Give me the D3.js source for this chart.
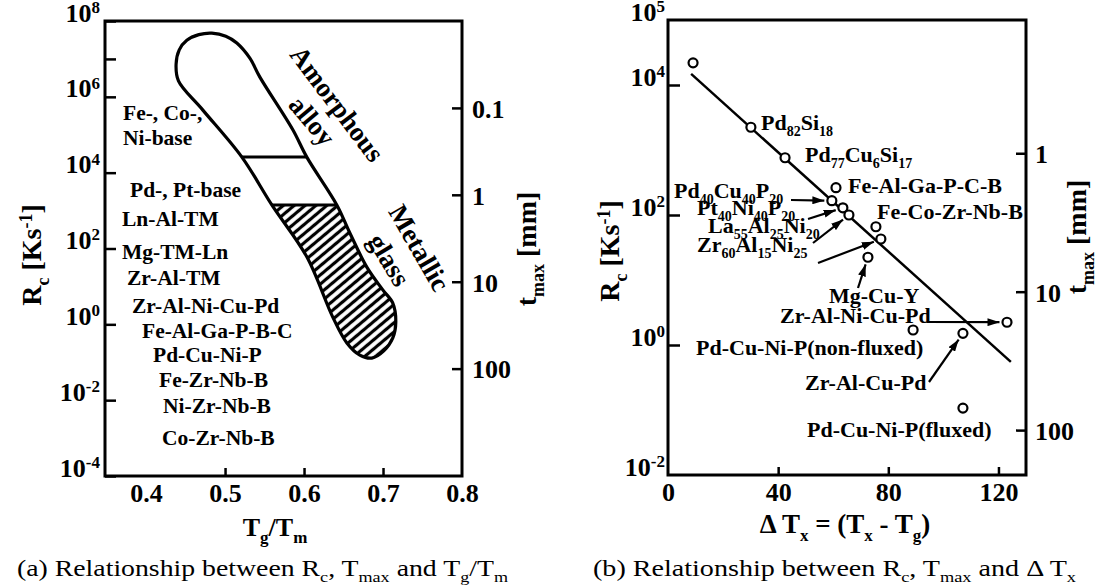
<!DOCTYPE html>
<html>
<head>
<meta charset="utf-8">
<title>Rc, tmax vs Tg/Tm and dTx</title>
<script src="https://cdn.jsdelivr.net/npm/d3@7"></script>
<style>
	body { margin: 0; background: #fff; }
</style>
</head>
<body>
<div id="container"></div>
<script>

//---- data, panel (a) ----
//glass forming band outline, traced clockwise from the top cap (Tg/Tm, log10 Rc)
var bandTgTm  = [0.4380, 0.4420, 0.4516, 0.4668, 0.4833, 0.5010, 0.5149, 0.5314, 0.5441, 0.5858, 0.6035, 0.6415, 0.6580, 0.6795,
	0.6997, 0.7124, 0.7162, 0.7124, 0.7010, 0.6858, 0.6706, 0.6542, 0.6364, 0.6035, 0.5592, 0.5213, 0.4719, 0.4410];
var bandLogRc = [6.86, 7.24, 7.49, 7.64, 7.68, 7.60, 7.42, 7.02, 6.52, 5.13, 4.41, 3.15, 2.41, 1.51,
	0.91, 0.56, 0.06, -0.36, -0.70, -0.89, -0.81, -0.49, 0.19, 1.78, 3.15, 4.41, 5.65, 6.42];
//levels splitting the band: amorphous alloy / metallic glass
var bandDivideLogRc = [4.41, 3.15];
var alloyGroupsA = ["Fe-, Co-,", "Ni-base", "Pd-, Pt-base", "Ln-Al-TM", "Mg-TM-Ln", "Zr-Al-TM",
	"Zr-Al-Ni-Cu-Pd", "Fe-Al-Ga-P-B-C", "Pd-Cu-Ni-P", "Fe-Zr-Nb-B", "Ni-Zr-Nb-B", "Co-Zr-Nb-B"];
var tgTmTicks = [0.4, 0.5, 0.6, 0.7, 0.8];
var rcTicksA = [1e8, 1e6, 1e4, 1e2, 1e0, 1e-2, 1e-4];
var tmaxTicksA = [0.1, 1, 10, 100];

//---- data, panel (b) ----
var alloyNamesB = ["", "Pd82Si18", "Pd77Cu6Si17", "Pd40Cu40P20", "Fe-Al-Ga-P-C-B", "Pt40Ni40P20",
	"La55Al25Ni20", "Mg-Cu-Y", "Fe-Co-Zr-Nb-B", "Zr60Al15Ni25", "Pd-Cu-Ni-P(non-fluxed)",
	"Zr-Al-Cu-Pd", "Pd-Cu-Ni-P(fluxed)", "Zr-Al-Ni-Cu-Pd"];
var deltaTx = [9.1, 30.1, 42.5, 59.5, 61.0, 63.5, 65.7, 72.6, 75.5, 77.3, 89.0, 107.1, 107.1, 123.1];
var rcB     = [21900, 2240, 760, 166, 263, 129, 100, 22.4, 66, 42.7, 1.70, 1.51, 0.107, 2.24];
var fitDeltaTx = [8.4, 124.5];
var fitRc = [14800, 0.55];
var deltaTxTicks = [0, 40, 80, 120];
var rcTicksB = [1e5, 1e4, 1e2, 1e0, 1e-2];
var tmaxTicksB = [1, 10, 100];

//---- layout ----
var W = 1096, H = 585;
var pa = {left: 105, top: 21, right: 462, bottom: 476};
var pb = {left: 668, top: 20, right: 1026, bottom: 475};
//label anchors in pixels
var groupPosA = [[123,120],[123,145],[130,197],[122,226],[122,259],[127,285],[132,313],[142,338],[153,362],[159,387],[163,413],[162,445]];
var labelPosB = [null,[761,130],[805,162],[674,198],[848,193],[697,215],[708,233],[829,303],[877,219],[697,252],[696,355],[805,390],[807,437],[780,323]];
var arrowFromB = [null,null,null,[791,200],null,[808,219],[813,243],[858,288],null,[818,263],null,[929,382],null,[928,322]];

var svg = d3.select("#container")
	.append("svg")
	.attr("width", W)
	.attr("height", H);
var defs = svg.append("defs");

//rich text: parts = [[text, "sub"|"sup"|null], ...]
function richText(sel, parts, size) {
	var small = Math.round(size * 0.64), cur = 0;
	parts.forEach(function(p) {
		var shift = p[1] === "sub" ? size * 0.28 : (p[1] === "sup" ? -size * 0.33 : 0);
		var t = sel.append("tspan").text(p[0]).attr("dy", shift - cur);
		if (p[1]) t.attr("font-size", small);
		cur = shift;
	});
}
function formulaParts(s) {
	return s.match(/\d+|\D+/g).map(function(r) { return [r, /\d/.test(r) ? "sub" : null]; });
}
function powerLabel(d) {
	return [["10", null], [String(Math.round(Math.log10(d))), "sup"]];
}
function styleAxis(g, size) {
	g.attr("font-size", size).attr("font-family", null).attr("font-weight", "bold");
	g.select(".domain").remove();
	g.selectAll(".tick line").attr("stroke", "#000").attr("stroke-width", 2.5);
}

//=================== panel (a) ===================
var xA = d3.scaleLinear().domain([0.348, 0.8]).range([pa.left, pa.right]);
var yA = d3.scaleLog().domain([1e-4, 1e8]).range([pa.bottom, pa.top]);
var tA = d3.scaleLog().domain([0.01, 1720]).range([pa.top, pa.bottom]);
var gA = svg.append("g");

var bandPts = bandTgTm.map(function(v, i) { return [xA(v), yA(Math.pow(10, bandLogRc[i]))]; });
var bandLine = d3.line().curve(d3.curveCatmullRomClosed.alpha(0.5));

defs.append("clipPath").attr("id", "bandClip")
	.append("path").attr("d", bandLine(bandPts));

var hatch = defs.append("pattern")
	.attr("id", "hatch")
	.attr("patternUnits", "userSpaceOnUse")
	.attr("width", 7).attr("height", 7)
	.attr("patternTransform", "rotate(-40)");
hatch.append("rect").attr("width", 7).attr("height", 7).attr("fill", "#fff");
hatch.append("line").attr("x1", 0).attr("x2", 7).attr("y1", 3.5).attr("y2", 3.5)
	.attr("stroke", "#000").attr("stroke-width", 3.2);

var hatchTop = yA(Math.pow(10, d3.min(bandDivideLogRc)));
gA.append("rect")
	.attr("clip-path", "url(#bandClip)")
	.attr("x", pa.left).attr("y", hatchTop)
	.attr("width", pa.right - pa.left).attr("height", pa.bottom - hatchTop)
	.attr("fill", "url(#hatch)");

gA.selectAll("line.divide").data(bandDivideLogRc).join("line")
	.attr("class", "divide")
	.attr("clip-path", "url(#bandClip)")
	.attr("x1", pa.left).attr("x2", pa.right)
	.attr("y1", function(d) { return yA(Math.pow(10, d)); })
	.attr("y2", function(d) { return yA(Math.pow(10, d)); })
	.attr("stroke", "#000").attr("stroke-width", 3);

gA.append("path")
	.attr("d", bandLine(bandPts))
	.attr("fill", "none")
	.attr("stroke", "#000")
	.attr("stroke-width", 3.2);

//axes (a)
var axLA = gA.append("g").attr("transform", "translate(" + pa.left + ",0)")
	.call(d3.axisLeft(yA).tickValues(rcTicksA).tickSizeInner(-11).tickSizeOuter(0).tickPadding(5));
styleAxis(axLA, 26);
axLA.selectAll(".tick text").attr("dy", "0.52em").each(function(d) {
	var t = d3.select(this); t.text(null); richText(t, powerLabel(d), 26);
});
var axLAm = gA.append("g").attr("transform", "translate(" + pa.left + ",0)")
	.call(d3.axisLeft(yA).tickValues([1e7]).tickSizeInner(-11).tickSizeOuter(0).tickFormat(""));
styleAxis(axLAm, 26);

var axRA = gA.append("g").attr("transform", "translate(" + pa.right + ",0)")
	.call(d3.axisRight(tA).tickValues(tmaxTicksA).tickSizeInner(-10).tickSizeOuter(0).tickPadding(10)
		.tickFormat(function(d) { return String(d); }));
styleAxis(axRA, 26);
axRA.selectAll(".tick text").attr("dy", "0.36em");

var axBA = gA.append("g").attr("transform", "translate(0," + pa.bottom + ")")
	.call(d3.axisBottom(xA).tickValues(tgTmTicks).tickSize(0).tickPadding(8).tickFormat(d3.format(".1f")));
styleAxis(axBA, 26);
var axBAt = gA.append("g").attr("transform", "translate(0," + pa.bottom + ")")
	.call(d3.axisBottom(xA).tickValues([0.5, 0.6, 0.7]).tickSizeInner(-8).tickSizeOuter(0).tickFormat(""));
styleAxis(axBAt, 26);

gA.append("rect")
	.attr("x", pa.left).attr("y", pa.top)
	.attr("width", pa.right - pa.left).attr("height", pa.bottom - pa.top)
	.attr("fill", "none").attr("stroke", "#000").attr("stroke-width", 3);

//group labels
gA.selectAll("text.group").data(alloyGroupsA).join("text")
	.attr("class", "group")
	.attr("x", function(d, i) { return groupPosA[i][0]; })
	.attr("y", function(d, i) { return groupPosA[i][1]; })
	.attr("font-size", 21.5).attr("font-weight", "bold")
	.text(function(d) { return d; });

//band titles
var bandTitles = [["Amorphous", 337, 104, 53], ["alloy", 312, 121, 50], ["Metallic", 419, 248, 60], ["glass", 389, 260, 59]];
gA.selectAll("text.bandTitle").data(bandTitles).join("text")
	.attr("class", "bandTitle")
	.attr("transform", function(d) { return "translate(" + d[1] + "," + d[2] + ") rotate(" + d[3] + ")"; })
	.attr("text-anchor", "middle").attr("dy", "0.33em")
	.attr("font-size", 27).attr("font-weight", "bold")
	.text(function(d) { return d[0]; });

//axis titles (a)
richText(gA.append("text").attr("x", 275).attr("y", 536).attr("text-anchor", "middle")
	.attr("font-size", 26).attr("font-weight", "bold"),
	[["T", null], ["g", "sub"], ["/T", null], ["m", "sub"]], 26);
richText(gA.append("text").attr("transform", "translate(41,255) rotate(-90)").attr("text-anchor", "middle")
	.attr("font-size", 28).attr("font-weight", "bold"),
	[["R", null], ["c", "sub"], [" [Ks", null], ["-1", "sup"], ["]", null]], 28);
richText(gA.append("text").attr("transform", "translate(536,249) rotate(-90)").attr("text-anchor", "middle")
	.attr("font-size", 28).attr("font-weight", "bold"),
	[["t", null], ["max", "sub"], [" [mm]", null]], 28);
richText(gA.append("text").attr("x", 17).attr("y", 576).attr("font-size", 23)
	.attr("textLength", 491).attr("lengthAdjust", "spacingAndGlyphs"),
	[["(a) Relationship between R", null], ["c", "sub"], [", T", null], ["max", "sub"],
	 [" and T", null], ["g", "sub"], ["/T", null], ["m", "sub"]], 23);

//=================== panel (b) ===================
var xB = d3.scaleLinear().domain([0, 130]).range([pb.left, pb.right]);
var yB = d3.scaleLog().domain([1e-2, 1e5]).range([pb.bottom, pb.top]);
var tB = d3.scaleLog().domain([0.109, 211]).range([pb.top, pb.bottom]);
var gB = svg.append("g");

var axLB = gB.append("g").attr("transform", "translate(" + pb.left + ",0)")
	.call(d3.axisLeft(yB).tickValues(rcTicksB).tickSizeInner(0).tickSizeOuter(0).tickPadding(3));
styleAxis(axLB, 26);
axLB.selectAll(".tick text").attr("dy", "0.52em").each(function(d) {
	var t = d3.select(this); t.text(null); richText(t, powerLabel(d), 26);
});
var axLBt = gB.append("g").attr("transform", "translate(" + pb.left + ",0)")
	.call(d3.axisLeft(yB).tickValues([1e4, 1e2, 1e0]).tickSizeInner(-12).tickSizeOuter(0).tickFormat(""));
styleAxis(axLBt, 26);

var axRB = gB.append("g").attr("transform", "translate(" + pb.right + ",0)")
	.call(d3.axisRight(tB).tickValues(tmaxTicksB).tickSizeInner(-10).tickSizeOuter(0).tickPadding(9)
		.tickFormat(function(d) { return String(d); }));
styleAxis(axRB, 26);
axRB.selectAll(".tick text").attr("dy", "0.36em");

var axBB = gB.append("g").attr("transform", "translate(0," + pb.bottom + ")")
	.call(d3.axisBottom(xB).tickValues(deltaTxTicks).tickSize(0).tickPadding(8));
styleAxis(axBB, 26);
var axBBt = gB.append("g").attr("transform", "translate(0," + pb.bottom + ")")
	.call(d3.axisBottom(xB).tickValues([40, 80, 120]).tickSizeInner(-8).tickSizeOuter(0).tickFormat(""));
styleAxis(axBBt, 26);

gB.append("rect")
	.attr("x", pb.left).attr("y", pb.top)
	.attr("width", pb.right - pb.left).attr("height", pb.bottom - pb.top)
	.attr("fill", "none").attr("stroke", "#000").attr("stroke-width", 3);

//fitted trend line
gB.append("path")
	.datum(fitDeltaTx.map(function(v, i) { return [v, fitRc[i]]; }))
	.attr("d", d3.line().x(function(d) { return xB(d[0]); }).y(function(d) { return yB(d[1]); }))
	.attr("fill", "none").attr("stroke", "#000").attr("stroke-width", 2.5);

//arrows
defs.append("marker")
	.attr("id", "arrowHead")
	.attr("viewBox", "0 0 12 8")
	.attr("refX", 12).attr("refY", 4)
	.attr("markerWidth", 12).attr("markerHeight", 8)
	.attr("markerUnits", "userSpaceOnUse")
	.attr("orient", "auto")
	.append("path").attr("d", "M0,0L12,4L0,8Z").attr("fill", "#000");

var R = 4.5;
var arrowIdx = d3.range(deltaTx.length).filter(function(i) { return arrowFromB[i]; });
gB.selectAll("line.arrow").data(arrowIdx).join("line")
	.attr("class", "arrow")
	.each(function(i) {
		var fx = arrowFromB[i][0], fy = arrowFromB[i][1];
		var cx = xB(deltaTx[i]), cy = yB(rcB[i]);
		var dx = cx - fx, dy = cy - fy, len = Math.sqrt(dx * dx + dy * dy);
		d3.select(this)
			.attr("x1", fx).attr("y1", fy)
			.attr("x2", cx - dx / len * (R + 3)).attr("y2", cy - dy / len * (R + 3));
	})
	.attr("stroke", "#000").attr("stroke-width", 2.2)
	.attr("marker-end", "url(#arrowHead)");

//points
gB.selectAll("circle.pt").data(deltaTx).join("circle")
	.attr("class", "pt")
	.attr("cx", function(d) { return xB(d); })
	.attr("cy", function(d, i) { return yB(rcB[i]); })
	.attr("r", R)
	.attr("fill", "#fff").attr("stroke", "#000").attr("stroke-width", 2.2);

//alloy labels
alloyNamesB.forEach(function(name, i) {
	if (!labelPosB[i]) return;
	var t = gB.append("text")
		.attr("x", labelPosB[i][0]).attr("y", labelPosB[i][1])
		.attr("font-size", 22).attr("font-weight", "bold");
	richText(t, formulaParts(name), 22);
});

//axis titles (b)
richText(gB.append("text").attr("x", 845).attr("y", 533).attr("text-anchor", "middle")
	.attr("font-size", 27).attr("font-weight", "bold"),
	[["\u0394 T", null], ["x", "sub"], [" = (T", null], ["x", "sub"], [" - T", null], ["g", "sub"], [")", null]], 27);
richText(gB.append("text").attr("transform", "translate(619,251) rotate(-90)").attr("text-anchor", "middle")
	.attr("font-size", 28).attr("font-weight", "bold"),
	[["R", null], ["c", "sub"], [" [Ks", null], ["-1", "sup"], ["]", null]], 28);
richText(gB.append("text").attr("transform", "translate(1086,237) rotate(-90)").attr("text-anchor", "middle")
	.attr("font-size", 28).attr("font-weight", "bold"),
	[["t", null], ["max", "sub"], [" [mm]", null]], 28);
richText(gB.append("text").attr("x", 593).attr("y", 576).attr("font-size", 23)
	.attr("textLength", 483).attr("lengthAdjust", "spacingAndGlyphs"),
	[["(b) Relationship between R", null], ["c", "sub"], [", T", null], ["max", "sub"],
	 [" and  \u0394 T", null], ["x", "sub"]], 23);

//Times-like serif on every text and tspan
svg.selectAll("text, tspan")
	.attr("font-family", "Liberation Serif")
	.style("font-family", "'Liberation Serif'")
	.attr("fill", "#000");

</script>
</body>
</html>
